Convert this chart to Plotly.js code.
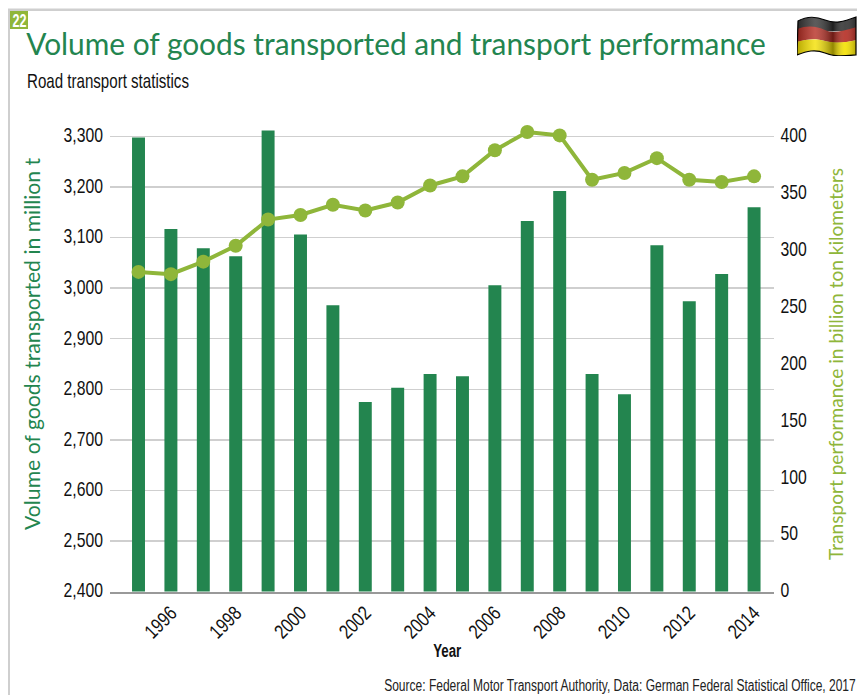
<!DOCTYPE html>
<html><head><meta charset="utf-8">
<script src="https://cdn.plot.ly/plotly-3.0.1.min.js"></script>
<style>html,body{margin:0;padding:0;background:#fff}#c{width:857px;height:695px}</style></head>
<body><div id="c"></div>
<script>
const years=[1995,1996,1997,1998,1999,2000,2001,2002,2003,2004,2005,2006,2007,2008,2009,2010,2011,2012,2013,2014];
const volume=[3298,3117,3079,3063,3312,3106,2966,2775,2803,2830,2826,3006,3133,3192,2830,2790,3085,2974,3028,3160];
const performance_=[281,279,290,304,327,331,340,335,342,357,365,388,404,401,362,368,381,362,360,365];
const leftTicks=[2400,2500,2600,2700,2800,2900,3000,3100,3200,3300];
const rightTicks=[0,50,100,150,200,250,300,350,400];
const xTicks=[1996,1998,2000,2002,2004,2006,2008,2010,2012,2014];
const W=857,H=695;
const green='#23854f',lime='#8fb63a',narrow='"Liberation Sans",sans-serif',geo='"Lato","Open Sans",sans-serif';
const px=x=>x/W,py=y=>1-y/H;
const flagSvg=`<svg xmlns="http://www.w3.org/2000/svg" width="60" height="40" viewBox="0 0 60 40"><defs><linearGradient id="s"><stop offset="0" stop-color="#000" stop-opacity=".25"/><stop offset=".3" stop-color="#fff" stop-opacity=".2"/><stop offset=".6" stop-color="#000" stop-opacity=".4"/><stop offset=".8" stop-color="#fff" stop-opacity=".1"/><stop offset="1" stop-color="#000" stop-opacity=".3"/></linearGradient><clipPath id="k"><path d="M1 5C8 1 18 0 28 4S46 6 59 1L59 39C46 40 38 41 28 37S10 35 0 39Z"/></clipPath></defs><g clip-path="url(#k)"><rect width="60" height="15" fill="#333"/><path d="M0 13C10 9 20 10 28 14S46 15 60 11V24C46 27 38 28 28 25S10 23 0 26Z" fill="#b52c22"/><path d="M0 26C10 23 20 23 28 25S46 27 60 24V40H0Z" fill="#f4e000"/><rect width="60" height="40" fill="url(#s)"/></g><path d="M1 5C8 1 18 0 28 4S46 6 59 1L59 39C46 40 38 41 28 37S10 35 0 39Z" fill="none" stroke="#000" stroke-width="1.2"/></svg>`;
const data=[
 {type:'bar',name:'Volume of goods transported',x:years,y:volume,yaxis:'y',marker:{color:green},width:0.4,hoverinfo:'x+y'},
 {type:'scatter',mode:'lines+markers',name:'Transport performance',x:years,y:performance_,yaxis:'y2',line:{color:lime,width:4},marker:{color:lime,size:14},hoverinfo:'x+y'}
];
const layout={
 width:W,height:H,margin:{l:0,r:0,t:0,b:0},paper_bgcolor:'#fff',plot_bgcolor:'#fff',showlegend:false,bargap:0.6,
 xaxis:{domain:[px(110),px(773.5)],range:[1994.12,2014.6],tickmode:'array',tickvals:xTicks,ticktext:xTicks.map(String),tickangle:-45,ticks:'',showgrid:false,zeroline:false,
  showline:true,linecolor:'#999',linewidth:2,tickfont:{family:narrow,size:20,color:'#111'},
  title:{text:'<b>Year</b>',font:{family:narrow,size:18,color:'#111'},standoff:14},automargin:false},
 yaxis:{domain:[py(591.5),py(116.3)],range:[2400,3340],tickmode:'array',tickvals:leftTicks,ticktext:leftTicks.map(v=>v.toLocaleString('en-US')),ticks:'',ticklabelstandoff:6,showgrid:true,gridcolor:'#cfcfcf',gridwidth:1.5,zeroline:false,showline:false,
  tickfont:{family:narrow,size:21,color:'#111'},title:{text:'Volume of goods transported in million t',font:{family:geo,size:21,color:green},standoff:16},automargin:false},
 yaxis2:{overlaying:'y',side:'right',anchor:'x',range:[0,417.8],tickmode:'array',tickvals:rightTicks,ticktext:rightTicks.map(String),ticks:'',ticklabelstandoff:6,showgrid:false,zeroline:false,showline:false,
  tickfont:{family:narrow,size:21,color:'#111'},title:{text:'Transport performance in billion ton kilometers',font:{family:geo,size:20,color:lime},standoff:16},automargin:false},
 images:[{source:'data:image/svg+xml;base64,'+btoa(flagSvg),xref:'paper',yref:'paper',x:px(797),y:py(16),sizex:60/W,sizey:40/H,sizing:'stretch',xanchor:'left',yanchor:'top',layer:'above'}],
 shapes:[
  {type:'rect',xref:'paper',yref:'paper',x0:px(8),x1:px(10),y0:0,y1:py(9),fillcolor:'#cfcfcf',line:{width:0},layer:'below'},
  {type:'rect',xref:'paper',yref:'paper',x0:px(8),x1:1,y0:py(11),y1:py(8.5),fillcolor:'#cfcfcf',line:{width:0},layer:'below'},
  {type:'rect',xref:'paper',yref:'paper',x0:px(10),x1:px(28),y0:py(29),y1:py(11),fillcolor:lime,line:{width:0},layer:'below'}
 ],
 annotations:[
  {xref:'paper',yref:'paper',x:px(19),y:py(20),xanchor:'center',yanchor:'middle',text:'<b>22</b>',showarrow:false,font:{family:narrow,size:19,color:'#fff'}},
  {xref:'paper',yref:'paper',x:px(26),y:py(43),xanchor:'left',yanchor:'middle',text:'Volume of goods transported and transport performance',showarrow:false,font:{family:geo,size:30,color:green}},
  {xref:'paper',yref:'paper',x:px(26),y:py(81),xanchor:'left',yanchor:'middle',text:'Road transport statistics',showarrow:false,font:{family:narrow,size:21,color:'#111'}},
  {xref:'paper',yref:'paper',x:px(856),y:py(685),xanchor:'right',yanchor:'middle',text:'Source: Federal Motor Transport Authority, Data: German Federal Statistical Office, 2017',showarrow:false,font:{family:narrow,size:16,color:'#222'}}
 ]
};
// Squeeze glyphs to mimic the reference's condensed typeface; text stays real text.
function squeeze(el,w){el.setAttribute('textLength',w);el.setAttribute('lengthAdjust','spacingAndGlyphs');}
function nudgeEl(el,dx,dy){const t=el.getAttribute('transform')||'';el.setAttribute('transform','translate('+dx+','+dy+') '+t);}
function scaleTo(el,width,left){ // horizontal scale so the element's real box equals the target
 const r=el.getBoundingClientRect(),b=el.getBBox(),s=width/r.width;
 const a=(left===null?r.left+r.width/2-width/2:left)-r.left+b.x-s*b.x;
 el.setAttribute('transform','translate('+a+',0) scale('+s+',1)');
}
Plotly.newPlot('c',data,layout,{displayModeBar:false,staticPlot:true}).then(()=>{
 document.querySelectorAll('.xtick text').forEach(t=>squeeze(t,t.getComputedTextLength()*0.8));
 document.querySelectorAll('.ytick text,.y2tick text').forEach(t=>{squeeze(t,t.getComputedTextLength()*0.75);nudgeEl(t,0,-1.5);});
 const targets=[['22',14,null],['Volume of goods',740,26],['Road transport',162,27],['Source:',472,384]];
 document.querySelectorAll('.annotation-text').forEach(t=>{
  for(const [k,w,left] of targets) if(t.textContent.startsWith(k)) scaleTo(t,w,left);
 });
 const xt=document.querySelector('.xtitle'),yt=document.querySelector('.ytitle'),y2=document.querySelector('.y2title');
 if(xt){squeeze(xt,28);nudgeEl(xt,5.5,-17);}
 if(yt){squeeze(yt,372);nudgeEl(yt,12,-10);}
 if(y2){squeeze(y2,392);nudgeEl(y2,-2,10);}
});
</script></body></html>
